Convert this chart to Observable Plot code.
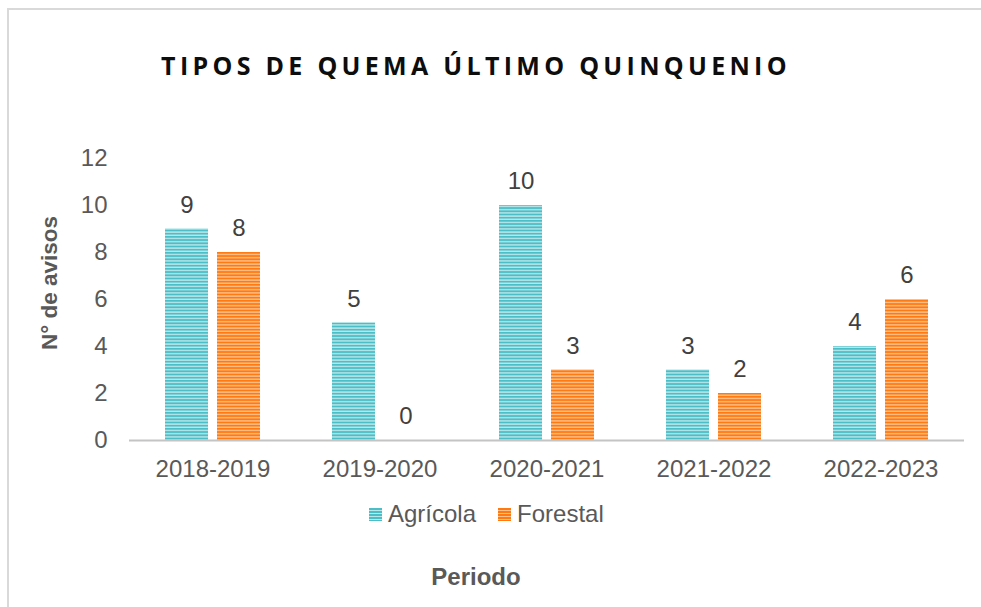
<!DOCTYPE html>
<html><head><meta charset="utf-8">
<script src="https://cdn.jsdelivr.net/npm/d3@7"></script>
<script src="https://cdn.jsdelivr.net/npm/@observablehq/plot@0.6"></script>
<style>
body{margin:0;background:#fff;overflow:hidden;}
#wrap{position:relative;width:981px;height:607px;overflow:hidden;font-family:"Liberation Sans",Arial,sans-serif;background:#fff;}
#frame{position:absolute;left:7px;top:8px;width:1100px;height:700px;border-left:2px solid #d9d9d9;border-top:2px solid #d9d9d9;box-sizing:border-box;}
#title{position:absolute;top:48px;left:0;width:952px;text-align:center;font-family:"Open Sans",sans-serif;font-weight:700;font-size:25px;letter-spacing:4.3px;color:#0d0d0d;white-space:nowrap;}
#chart{position:absolute;left:0;top:140px;}
#ylab{position:absolute;left:50px;top:283px;transform:translate(-50%,-50%) rotate(-90deg);font-weight:700;font-size:22.5px;color:#595959;white-space:nowrap;}
#legend{position:absolute;left:369px;top:500px;display:flex;align-items:center;font-size:24px;color:#595959;white-space:nowrap;}
.sw{width:13px;height:13px;display:inline-block;margin-right:6px;}
.item{display:flex;align-items:center;margin-right:22px;}
#xlab{position:absolute;left:0;width:952px;top:563px;text-align:center;font-weight:700;font-size:24px;color:#595959;}
</style>
</head><body>
<div id="wrap">
  <div id="frame"></div>
  <div id="title">TIPOS DE QUEMA ÚLTIMO QUINQUENIO</div>
  <div id="chart"></div>
  <div id="ylab">N° de avisos</div>
  <div id="legend"></div>
  <div id="xlab">Periodo</div>
</div>
<script>
const periods = ["2018-2019", "2019-2020", "2020-2021", "2021-2022", "2022-2023"];
const series = ["Agrícola", "Forestal"];
const agricola = [9, 5, 10, 3, 4];
const forestal = [8, 0, 3, 2, 6];
const yTicks = [0, 2, 4, 6, 8, 10, 12];
const yLabel = "N° de avisos";
const xLabel = "Periodo";

const colorsDark = ["#4bbec7", "#ff7b12"];
const colorsLight = ["#b9e7ea", "#ffc08c"];
const patternIds = ["pAgr", "pFor"];

const data = [];
periods.forEach((p, i) => {
  data.push({period: p, series: series[0], value: agricola[i]});
  data.push({period: p, series: series[1], value: forestal[i]});
});

const chart = Plot.plot({
  width: 981,
  height: 350,
  marginLeft: 128,
  marginRight: 16,
  marginTop: 18,
  marginBottom: 50,
  style: {fontSize: "24px", fontFamily: "'Liberation Sans', Arial, sans-serif", color: "#595959", background: "transparent", overflow: "visible"},
  fx: {domain: periods, padding: 0, label: null, axis: "bottom", tickSize: 0, tickPadding: 19},
  x: {domain: series, paddingInner: 0.17, paddingOuter: 0.664, axis: null},
  y: {domain: [0, 12], ticks: yTicks, tickSize: 0, tickPadding: 22, label: null},
  color: {domain: series, range: patternIds.map(id => `url(#${id})`)},
  marks: [
    Plot.barY(data, {fx: "period", x: "series", y: "value", fill: "series"}),
    Plot.ruleY([0], {stroke: "#c4c4c4", strokeWidth: 2}),
    Plot.text(data, {fx: "period", x: "series", y: "value", text: d => String(d.value), dy: -24, lineAnchor: "middle", fill: "#404040", fontSize: 24})
  ]
});

// stripe patterns
const svgNS = "http://www.w3.org/2000/svg";
const defs = document.createElementNS(svgNS, "defs");
patternIds.forEach((id, i) => {
  const pat = document.createElementNS(svgNS, "pattern");
  pat.setAttribute("id", id);
  pat.setAttribute("patternUnits", "userSpaceOnUse");
  pat.setAttribute("width", "10");
  pat.setAttribute("height", "3.2");
  const r1 = document.createElementNS(svgNS, "rect");
  r1.setAttribute("width", "10"); r1.setAttribute("height", "3.2"); r1.setAttribute("fill", colorsDark[i]);
  const r2 = document.createElementNS(svgNS, "rect");
  r2.setAttribute("y", "1.8"); r2.setAttribute("width", "10"); r2.setAttribute("height", "1.4"); r2.setAttribute("fill", colorsLight[i]);
  pat.appendChild(r1); pat.appendChild(r2);
  defs.appendChild(pat);
});
chart.insertBefore(defs, chart.firstChild);
document.getElementById("chart").appendChild(chart);

// legend
const legend = document.getElementById("legend");
series.forEach((s, i) => {
  const item = document.createElement("span");
  item.className = "item";
  const sw = document.createElement("span");
  sw.className = "sw";
  sw.style.background = `repeating-linear-gradient(to bottom, ${colorsDark[i]} 0px, ${colorsDark[i]} 2px, ${colorsLight[i]} 2px, ${colorsLight[i]} 3px)`;
  item.appendChild(sw);
  item.appendChild(document.createTextNode(s));
  legend.appendChild(item);
});
document.getElementById("ylab").textContent = yLabel;
document.getElementById("xlab").textContent = xLabel;
</script>
</body></html>
